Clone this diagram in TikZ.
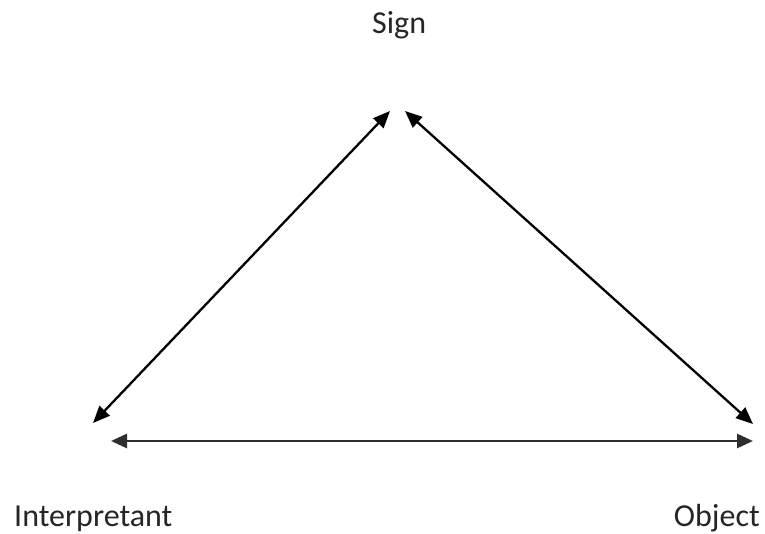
\documentclass[tikz,border=0pt]{standalone}
\usepackage{fontspec}
\setmainfont{Carlito}
\usetikzlibrary{arrows.meta}
\begin{document}
\begin{tikzpicture}[x=1pt,y=-1pt,
  lbl/.style={inner sep=0pt,text=black!85,font=\fontsize{32}{38}\selectfont},
  dbl/.style={line width=2.3pt,{Triangle[length=17pt,width=14pt]}-{Triangle[length=17pt,width=14pt]}},
  hdbl/.style={line width=2.8pt,draw=black!82,{Triangle[length=16pt,width=14pt]}-{Triangle[length=16pt,width=14pt]}}]
\useasboundingbox[fill=white] (0,0) rectangle (765,534);
\node[lbl,anchor=base west] (sign) at (372,34) {Sign};
\node[lbl,anchor=base west] (interp) at (14,526) {Interpretant};
\node[lbl,anchor=base east] (object) at (760,526) {Object};
\coordinate (sl) at (390,111);
\coordinate (sr) at (405,111);
\coordinate (il) at (93,423);
\coordinate (ol) at (753,424);
\coordinate (ih) at (111,441);
\coordinate (oh) at (753,441);
\draw[dbl] (il) -- (sl);
\draw[dbl] (sr) -- (ol);
\draw[hdbl] (ih) -- (oh);
\end{tikzpicture}
\end{document}
